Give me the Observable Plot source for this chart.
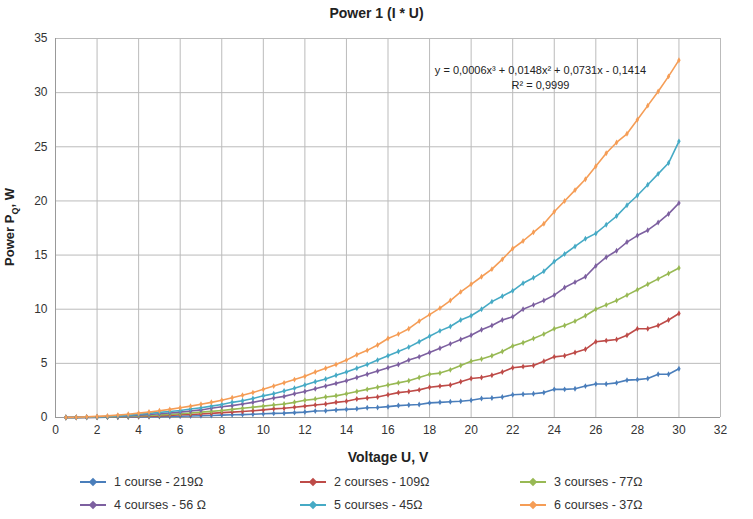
<!DOCTYPE html>
<html><head><meta charset="utf-8">
<script src="https://cdn.jsdelivr.net/npm/d3@7"></script>
<script src="https://cdn.jsdelivr.net/npm/@observablehq/plot@0.6"></script>
<style>
body{margin:0;background:#fff;font-family:"Liberation Sans",Arial,sans-serif;overflow:hidden;}
#title{height:28px;text-align:center;font-weight:bold;font-size:14px;line-height:26px;color:#222;}
#legend{position:relative;height:46px;font-size:12.5px;color:#333;}
.li{position:absolute;display:flex;align-items:center;gap:8px;line-height:14px;}
.sw{width:26px;height:2px;position:relative;}
.sw::after{content:"";position:absolute;left:10px;top:-2px;width:6px;height:6px;background:inherit;transform:rotate(45deg);}
</style></head><body>
<div id="title">Power 1 (I * U)</div>
<div id="chart"></div>
<div id="legend"></div>
<script>
const voltage = d3.range(1,61).map(i=>i*0.5);
const seriesNames = ["1 course - 219\u2126","2 courses - 109\u2126","3 courses - 77\u2126","4 courses - 56 \u2126","5 courses - 45\u2126","6 courses - 37\u2126"];
const colors = ["#4a7ebb","#be4b48","#98b954","#7d60a0","#46aac5","#f59d56"];
const s1 = [0.0,0.0,0.01,0.01,0.02,0.03,0.04,0.06,0.07,0.08,0.1,0.12,0.14,0.16,0.18,0.22,0.25,0.27,0.3,0.35,0.38,0.4,0.45,0.5,0.6,0.62,0.7,0.75,0.8,0.9,0.92,1.0,1.1,1.15,1.2,1.35,1.4,1.45,1.5,1.6,1.75,1.8,1.9,2.1,2.15,2.2,2.3,2.6,2.6,2.65,2.9,3.1,3.1,3.2,3.45,3.5,3.6,4.0,4.0,4.5];
const s2 = [0.0,0.01,0.01,0.02,0.04,0.05,0.07,0.1,0.12,0.15,0.2,0.25,0.28,0.32,0.38,0.45,0.5,0.55,0.62,0.7,0.8,0.85,0.95,1.05,1.15,1.25,1.4,1.5,1.7,1.8,1.9,2.1,2.3,2.4,2.55,2.8,2.9,3.0,3.3,3.6,3.7,3.9,4.2,4.6,4.7,4.8,5.2,5.6,5.7,6.0,6.3,7.0,7.1,7.2,7.6,8.2,8.2,8.5,9.0,9.6];
const s3 = [0.0,0.01,0.02,0.03,0.05,0.07,0.1,0.15,0.19,0.23,0.29,0.35,0.42,0.5,0.57,0.65,0.75,0.85,0.95,1.05,1.15,1.25,1.4,1.6,1.7,1.9,2.0,2.2,2.4,2.6,2.8,3.0,3.2,3.4,3.7,4.0,4.1,4.4,4.8,5.2,5.4,5.7,6.1,6.6,6.9,7.3,7.7,8.2,8.5,8.9,9.4,10.0,10.4,10.8,11.3,11.8,12.3,12.8,13.3,13.8];
const s4 = [0.0,0.01,0.02,0.04,0.07,0.1,0.15,0.22,0.28,0.34,0.42,0.5,0.6,0.7,0.85,1.0,1.1,1.25,1.4,1.6,1.8,1.95,2.2,2.4,2.65,2.9,3.15,3.4,3.7,4.0,4.3,4.6,4.9,5.3,5.6,6.0,6.4,6.8,7.2,7.6,8.1,8.5,9.0,9.3,10.0,10.4,10.8,11.3,12.0,12.5,13.0,14.0,14.8,15.4,16.2,16.8,17.3,18.0,18.8,19.8];
const s5 = [0.0,0.01,0.03,0.06,0.09,0.13,0.2,0.3,0.38,0.47,0.55,0.65,0.78,0.9,1.05,1.2,1.4,1.55,1.75,2.0,2.2,2.45,2.7,3.0,3.3,3.55,3.9,4.2,4.55,4.9,5.3,5.7,6.1,6.5,7.0,7.5,8.0,8.4,9.0,9.4,10.0,10.7,11.2,11.7,12.4,12.9,13.5,14.4,15.1,15.8,16.5,17.0,17.8,18.6,19.6,20.5,21.5,22.5,23.5,25.5];
const s6 = [0.01,0.03,0.06,0.1,0.15,0.22,0.3,0.4,0.5,0.62,0.75,0.9,1.05,1.22,1.4,1.6,1.82,2.05,2.3,2.6,2.9,3.2,3.5,3.8,4.2,4.55,4.9,5.3,5.8,6.2,6.7,7.3,7.7,8.2,8.9,9.5,10.1,10.8,11.6,12.3,13.0,13.7,14.6,15.6,16.3,17.1,17.9,19.0,20.0,21.0,22.0,23.2,24.4,25.4,26.2,27.5,28.8,30.1,31.5,33.0];
const xTicks = d3.range(0,33,2);
const yTicks = d3.range(0,36,5);
const allS=[s1,s2,s3,s4,s5,s6];
const data = allS.flatMap((s,k)=>s.map((v,i)=>({U:voltage[i],P:v,series:seriesNames[k]})));

const plot = Plot.plot({
  width:753, height:445, marginLeft:55, marginRight:33, marginTop:10, marginBottom:56,
  style:{fontFamily:"Liberation Sans, Arial, sans-serif",fontSize:"12px",color:"#333"},
  x:{domain:[0,32],ticks:xTicks,label:"Voltage U, V",labelAnchor:"center",labelArrow:"none",tickSize:0},
  y:{domain:[0,35],ticks:yTicks,label:null,tickSize:0},
  color:{domain:seriesNames,range:colors},
  marks:[
    Plot.gridX(xTicks,{stroke:"#bbb",strokeOpacity:1}),
    Plot.gridY(yTicks,{stroke:"#bbb",strokeOpacity:1}),
    Plot.ruleX([0],{stroke:"#999"}),
    Plot.ruleY([0],{stroke:"#999"}),
    Plot.axisX({ticks:xTicks,tickSize:0,tickPadding:8,label:"Voltage U, V",labelAnchor:"center",labelArrow:"none",labelOffset:44,fontSize:12}),
    Plot.axisY({ticks:yTicks,tickSize:0,tickPadding:8,label:null,fontSize:12}),
    Plot.line(data,{x:"U",y:"P",stroke:"series",strokeWidth:1.6}),
    Plot.dot(data,{x:"U",y:"P",fill:"series",r:1.8,symbol:"diamond"}),
    Plot.text(["y = 0,0006x\u00b3 + 0,0148x\u00b2 + 0,0731x - 0,1414"],{frameAnchor:"top-right",dx:-180,dy:28,fontSize:11,fill:"#222",textAnchor:"middle"}),
    Plot.text(["R\u00b2 = 0,9999"],{frameAnchor:"top-right",dx:-180,dy:43,fontSize:11,fill:"#222",textAnchor:"middle"})
  ]
});
const svg=d3.select(plot);
svg.selectAll("g[aria-label='x-axis label'] text").attr("font-weight","bold").attr("font-size",14).attr("fill","#222");
const yl=svg.append("text").attr("transform","translate(14,199) rotate(-90)").attr("text-anchor","middle")
  .attr("font-weight","bold").attr("font-size",13).attr("fill","#222");
yl.append("tspan").text("Power P");
yl.append("tspan").text("Q").attr("font-size",9).attr("dy",4);
yl.append("tspan").text(", W").attr("dy",-4);
document.getElementById("chart").appendChild(plot);
const lg=document.getElementById("legend");
const cols=[80,300,520], rows=[2,25];
seriesNames.forEach((n,i)=>{
  const d=document.createElement("div");d.className="li";
  d.style.left=cols[i%3]+"px";d.style.top=rows[Math.floor(i/3)]+"px";
  d.innerHTML=`<span class="sw" style="background:${colors[i]}"></span><span>${n}</span>`;
  lg.appendChild(d);
});
</script></body></html>
